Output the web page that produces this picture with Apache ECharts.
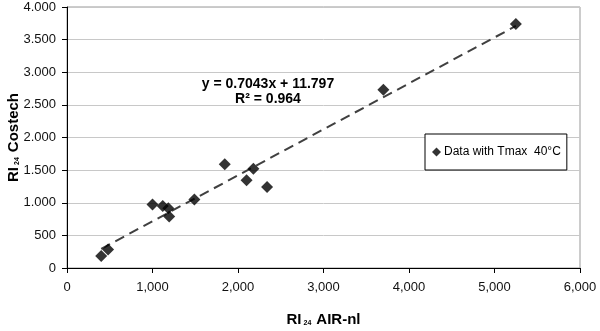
<!DOCTYPE html>
<html>
<head>
<meta charset="utf-8">
<script src="https://cdn.jsdelivr.net/npm/echarts@6/dist/echarts.min.js"></script>
<style>
  html, body { margin: 0; padding: 0; background: #fff; }
  #main { width: 600px; height: 331px; }
</style>
</head>
<body>
<div id="main"></div>
<script>
// RI24 AIR-nl (x) vs RI24 Costech (y)
const airNl = [400, 480, 1000, 1120, 1185, 1195, 1490, 1845, 2100, 2180, 2340, 3700, 5250];
const costech = [185, 285, 975, 950, 915, 790, 1050, 1590, 1345, 1520, 1240, 2730, 3740];
// trendline from the printed equation
const slope = 0.7043;
const intercept = 11.797;
const trendX = [400, 5250];

const points = airNl.map((x, i) => [x, costech[i]]);
const trend = trendX.map((x) => [x, slope * x + intercept]);

function sep(v, ch) {
  return String(v).replace(/\B(?=(\d{3})+(?!\d))/g, ch);
}

const titleRich = {
  a: { fontSize: 15, fontWeight: "bold", color: "#000" },
  s: { fontSize: 7, fontWeight: "bold", color: "#000", verticalAlign: "bottom", padding: [8, 5, 0, 2] },
};

const chart = echarts.init(document.getElementById("main"));
chart.setOption({
  animation: false,
  textStyle: { fontFamily: "Liberation Sans, Arial, sans-serif" },
  grid: {
    left: 67,
    right: 20,
    top: 7,
    bottom: 63,
    outerBoundsMode: "none",
    containLabel: false,
    show: true,
    borderColor: "#999",
    borderWidth: 1,
  },
  legend: {
    data: ["Data with Tmax  40°C"],
    left: 425,
    top: 134,
    width: 138,
    padding: [12, 6, 12, 7],
    itemWidth: 9,
    itemHeight: 9,
    itemGap: 4,
    backgroundColor: "#fff",
    borderColor: "#000",
    borderWidth: 1,
    borderRadius: 0,
    textStyle: { color: "#000", fontSize: 12, padding: [0, 0, 0, -2] },
  },
  xAxis: {
    type: "value",
    min: 0,
    max: 6000,
    interval: 1000,
    name: "{a|RI}{s|24}{a|AIR-nl}",
    nameLocation: "middle",
    nameGap: 44,
    nameMoveOverlap: false,
    nameTextStyle: { rich: titleRich },
    axisLine: { lineStyle: { color: "#000", width: 1 } },
    axisTick: { show: true, length: 5, lineStyle: { color: "#000" } },
    axisLabel: { color: "#111", fontSize: 13, margin: 13, formatter: (v) => sep(v, ",") },
    splitLine: { show: false },
  },
  yAxis: {
    type: "value",
    min: 0,
    max: 4000,
    interval: 500,
    name: "{a|RI}{s|24}{a|Costech}",
    nameLocation: "middle",
    nameGap: 46,
    nameMoveOverlap: false,
    nameTextStyle: { rich: titleRich },
    axisLine: { show: true, lineStyle: { color: "#000", width: 1 } },
    axisTick: { show: true, length: 5, lineStyle: { color: "#000" } },
    axisLabel: { color: "#111", fontSize: 13, margin: 11, formatter: (v) => sep(v, ".") },
    splitLine: { show: true, lineStyle: { color: "#c8c8c8", width: 1 } },
  },
  series: [
    {
      name: "trend",
      type: "line",
      data: trend,
      symbol: "none",
      silent: true,
      lineStyle: { color: "#404040", width: 2, type: [10, 6] },
      z: 1,
    },
    {
      name: "Data with Tmax  40°C",
      type: "scatter",
      data: points,
      symbol: "diamond",
      symbolSize: 12,
      itemStyle: { color: "#000" },
      z: 3,
    },
  ],
  graphic: [
    {
      type: "text",
      x: 268,
      y: 84,
      style: {
        text: "y = 0.7043x + 11.797",
        font: "bold 14px Liberation Sans, Arial, sans-serif",
        fill: "#000",
        align: "center",
        verticalAlign: "middle",
      },
    },
    {
      type: "text",
      x: 268,
      y: 99,
      style: {
        text: "R² = 0.964",
        font: "bold 14px Liberation Sans, Arial, sans-serif",
        fill: "#000",
        align: "center",
        verticalAlign: "middle",
      },
    },
  ],
});
</script>
</body>
</html>
